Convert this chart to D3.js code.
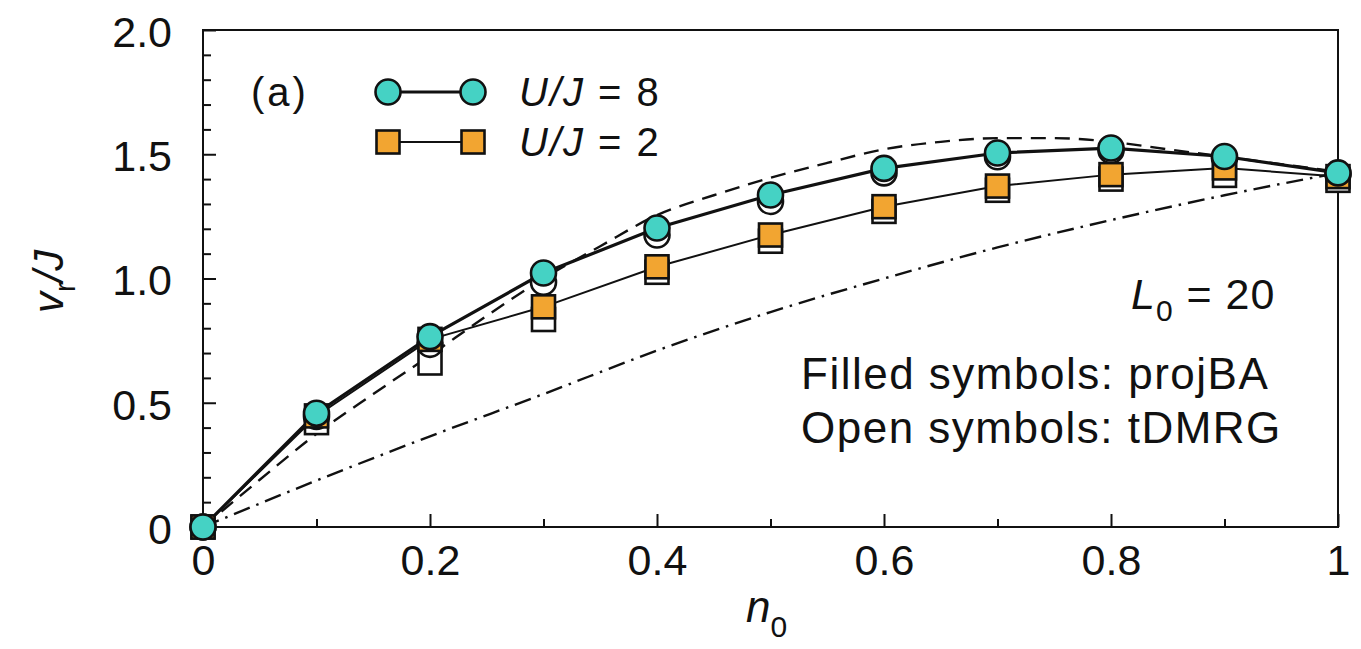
<!DOCTYPE html>
<html>
<head>
<meta charset="utf-8">
<script src="https://cdn.jsdelivr.net/npm/d3@7"></script>
<style>
  html, body { margin: 0; padding: 0; background: #fff; }
  svg { display: block; }
  text { font-family: "Liberation Sans", Arial, Helvetica, sans-serif; fill: #111; }
</style>
</head>
<body>
<svg id="chart" width="1361" height="649"></svg>
<script>
// Filling fraction n0 at which the velocities were computed
const n0 = [0, 0.1, 0.2, 0.3, 0.4, 0.5, 0.6, 0.7, 0.8, 0.9, 1.0];

// projBA (filled symbols)
const projBA_U8 = [0, 0.458, 0.766, 1.022, 1.203, 1.336, 1.443, 1.505, 1.525, 1.491, 1.425];
const projBA_U2 = [0, 0.447, 0.755, 0.886, 1.047, 1.175, 1.289, 1.372, 1.418, 1.445, 1.41];

// tDMRG (open symbols)
const tDMRG_U8 = [0, 0.445, 0.735, 0.985, 1.175, 1.31, 1.425, 1.49, 1.515, 1.485, 1.42];
const tDMRG_U2 = [0, 0.42, 0.66, 0.835, 1.025, 1.15, 1.27, 1.355, 1.40, 1.415, 1.395];

// Limiting curves
const limitDashedX = [0, 0.05, 0.1, 0.15, 0.2, 0.25, 0.3, 0.35, 0.4, 0.45, 0.5, 0.55, 0.6, 0.65, 0.7, 0.75, 0.8, 0.85, 0.9, 0.95, 1.0];
const limitDashedY = [0, 0.19, 0.375, 0.535, 0.69, 0.85, 1.0, 1.13, 1.255, 1.335, 1.405, 1.465, 1.52, 1.55, 1.565, 1.565, 1.55, 1.52, 1.49, 1.46, 1.43];
const limitDashDotX = [0, 0.1, 0.2, 0.3, 0.4, 0.5, 0.6, 0.7, 0.8, 0.9, 1.0];
const limitDashDotY = [0, 0.187, 0.365, 0.535, 0.71, 0.865, 1.0, 1.125, 1.235, 1.335, 1.425];

// Axis ticks
const xMajorTicks = [0, 0.2, 0.4, 0.6, 0.8, 1];
const xTickLabels = ["0", "0.2", "0.4", "0.6", "0.8", "1"];
const xMinorTicks = [0.1, 0.3, 0.5, 0.7, 0.9];
const yMajorTicks = [0, 0.5, 1.0, 1.5, 2.0];
const yTickLabels = ["0", "0.5", "1.0", "1.5", "2.0"];
const yMinorTicks = [0.1, 0.2, 0.3, 0.4, 0.6, 0.7, 0.8, 0.9, 1.1, 1.2, 1.3, 1.4, 1.6, 1.7, 1.8, 1.9];

const TEAL = "#45d2c4";
const ORANGE = "#f2a531";

const svg = d3.select("#chart");
const plot = { left: 203, right: 1338, top: 30, bottom: 527 };

const x = d3.scaleLinear().domain([0, 1]).range([plot.left, plot.right]);
const y = d3.scaleLinear().domain([0, 2]).range([plot.bottom, plot.top]);

// Axes with inward ticks
const xAxisMajor = d3.axisBottom(x).tickValues(xMajorTicks).tickSize(-13)
  .tickFormat((d, i) => xTickLabels[i]).tickPadding(17);
const xAxisMinor = d3.axisBottom(x).tickValues(xMinorTicks).tickSize(-8).tickFormat("");
const yAxisMajor = d3.axisLeft(y).tickValues(yMajorTicks).tickSize(-13)
  .tickFormat((d, i) => yTickLabels[i]).tickPadding(31);
const yAxisMinor = d3.axisLeft(y).tickValues(yMinorTicks).tickSize(-8).tickFormat("");

function styleAxis(g) {
  g.select(".domain").remove();
  g.selectAll("line").attr("stroke", "#111").attr("stroke-width", 2);
  g.selectAll("text").attr("font-size", 43).attr("fill", "#111")
    .style("font-family", "'Liberation Sans', Arial, sans-serif");
}

const gx = svg.append("g").attr("transform", `translate(0,${plot.bottom})`);
gx.call(xAxisMajor).call(styleAxis);
gx.selectAll("text").attr("dy", "0.71em");
svg.append("g").attr("transform", `translate(0,${plot.bottom})`).call(xAxisMinor).call(styleAxis);

const gy = svg.append("g").attr("transform", `translate(${plot.left},0)`);
gy.call(yAxisMajor).call(styleAxis);
gy.selectAll("text").attr("dy", "0.38em");
svg.append("g").attr("transform", `translate(${plot.left},0)`).call(yAxisMinor).call(styleAxis);

// Frame
svg.append("rect")
  .attr("x", plot.left).attr("y", plot.top)
  .attr("width", plot.right - plot.left).attr("height", plot.bottom - plot.top)
  .attr("fill", "none").attr("stroke", "#111").attr("stroke-width", 2);

// Limiting curves
const smooth = d3.line().x(d => x(d[0])).y(d => y(d[1])).curve(d3.curveMonotoneX);
svg.append("path")
  .attr("d", smooth(d3.zip(limitDashedX, limitDashedY)))
  .attr("fill", "none").attr("stroke", "#111").attr("stroke-width", 2.4)
  .attr("stroke-dasharray", "15,9");
svg.append("path")
  .attr("d", smooth(d3.zip(limitDashDotX, limitDashDotY)))
  .attr("fill", "none").attr("stroke", "#111").attr("stroke-width", 2.4)
  .attr("stroke-dasharray", "17,7,2.5,7");

const R = 12.5;    // circle radius
const S = 23;      // square side

function squares(vals, fill) {
  svg.append("g").selectAll("rect").data(d3.zip(n0, vals)).join("rect")
    .attr("x", d => x(d[0]) - S / 2).attr("y", d => y(d[1]) - S / 2)
    .attr("width", S).attr("height", S)
    .attr("fill", fill).attr("stroke", "#111").attr("stroke-width", 2.6);
}
function circles(vals, fill) {
  svg.append("g").selectAll("circle").data(d3.zip(n0, vals)).join("circle")
    .attr("cx", d => x(d[0])).attr("cy", d => y(d[1])).attr("r", R)
    .attr("fill", fill).attr("stroke", "#111").attr("stroke-width", 2.6);
}
const straight = d3.line().x(d => x(d[0])).y(d => y(d[1]));

// tDMRG open symbols
squares(tDMRG_U2, "#fff");
circles(tDMRG_U8, "#fff");

// projBA lines and filled symbols
svg.append("path").attr("d", straight(d3.zip(n0, projBA_U2)))
  .attr("fill", "none").attr("stroke", "#111").attr("stroke-width", 2);
svg.append("path").attr("d", straight(d3.zip(n0, projBA_U8)))
  .attr("fill", "none").attr("stroke", "#111").attr("stroke-width", 3.2);
squares(projBA_U2, ORANGE);
circles(projBA_U8, TEAL);

// Legend
const leg = svg.append("g");
leg.append("line").attr("x1", 388).attr("x2", 473).attr("y1", 92).attr("y2", 92)
  .attr("stroke", "#111").attr("stroke-width", 3.2);
leg.append("line").attr("x1", 388).attr("x2", 473).attr("y1", 142).attr("y2", 142)
  .attr("stroke", "#111").attr("stroke-width", 2);
[388, 473].forEach(cx => {
  leg.append("circle").attr("cx", cx).attr("cy", 92).attr("r", R)
    .attr("fill", TEAL).attr("stroke", "#111").attr("stroke-width", 2.6);
  leg.append("rect").attr("x", cx - S / 2).attr("y", 142 - S / 2).attr("width", S).attr("height", S)
    .attr("fill", ORANGE).attr("stroke", "#111").attr("stroke-width", 2.6);
});
function ujLabel(yb, val) {
  const t = leg.append("text").attr("x", 519).attr("y", yb).attr("font-size", 40)
    .attr("letter-spacing", 2);
  t.append("tspan").attr("font-style", "italic").text("U/J");
  t.append("tspan").text(" = " + val);
}
ujLabel(106, "8");
ujLabel(156, "2");

svg.append("text").attr("x", 251).attr("y", 106).attr("font-size", 40)
  .attr("letter-spacing", 3).text("(a)");

// Annotations
const L0 = svg.append("text").attr("x", 1131).attr("y", 309).attr("font-size", 43)
  .attr("letter-spacing", 1);
L0.append("tspan").attr("font-style", "italic").text("L");
L0.append("tspan").attr("font-size", 30).attr("dy", 12).text("0");
L0.append("tspan").attr("dy", -12).text(" = 20");

svg.append("text").attr("x", 801).attr("y", 389).attr("font-size", 44)
  .attr("letter-spacing", 1.5).text("Filled symbols: projBA");
svg.append("text").attr("x", 801).attr("y", 443).attr("font-size", 44)
  .attr("letter-spacing", 1.5).text("Open symbols: tDMRG");

// Axis titles
const xt = svg.append("text").attr("x", 746).attr("y", 622).attr("font-size", 44);
xt.append("tspan").attr("font-style", "italic").text("n");
xt.append("tspan").attr("font-size", 30).attr("dy", 15).text("0");

const yt = svg.append("text").attr("transform", "translate(63,313) rotate(-90)").attr("font-size", 42);
yt.append("tspan").attr("font-style", "italic").text("v");
yt.append("tspan").attr("font-size", 29).attr("dy", 12).text("r");
yt.append("tspan").attr("dy", -12).attr("font-style", "italic").text("/J");
</script>
</body>
</html>
